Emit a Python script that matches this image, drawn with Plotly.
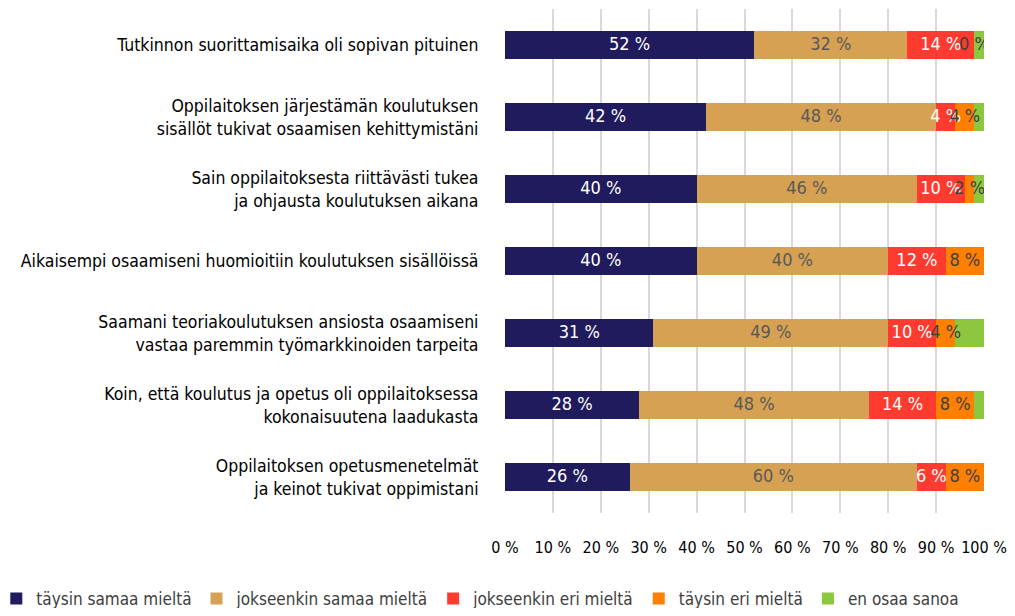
import plotly.graph_objects as go

# Kyselyn väittämät (ylhäältä alas)
statements = [
    "Tutkinnon suorittamisaika oli sopivan pituinen",
    "Oppilaitoksen järjestämän koulutuksen<br>sisällöt tukivat osaamisen kehittymistäni",
    "Sain oppilaitoksesta riittävästi tukea<br>ja ohjausta koulutuksen aikana",
    "Aikaisempi osaamiseni huomioitiin koulutuksen sisällöissä",
    "Saamani teoriakoulutuksen ansiosta osaamiseni<br>vastaa paremmin työmarkkinoiden tarpeita",
    "Koin, että koulutus ja opetus oli oppilaitoksessa<br>kokonaisuutena laadukasta",
    "Oppilaitoksen opetusmenetelmät<br>ja keinot tukivat oppimistani",
]

taysin_samaa = [52, 42, 40, 40, 31, 28, 26]
jokseenkin_samaa = [32, 48, 46, 40, 49, 48, 60]
jokseenkin_eri = [14, 4, 10, 12, 10, 14, 6]
taysin_eri = [0, 4, 2, 8, 4, 8, 8]
en_osaa = [2, 2, 2, 0, 6, 2, 0]

tick_vals = [0, 10, 20, 30, 40, 50, 60, 70, 80, 90, 100]
tick_text = [f"{v} %" for v in tick_vals]

series = [
    ("täysin samaa mieltä", taysin_samaa, "#1f1b5c", "white", True),
    ("jokseenkin samaa mieltä", jokseenkin_samaa, "#d6a152", "#595959", True),
    ("jokseenkin eri mieltä", jokseenkin_eri, "#ff3a2f", "white", True),
    ("täysin eri mieltä", taysin_eri, "#ff7f00", "#404040", True),
    ("en osaa sanoa", en_osaa, "#8dc63f", "#404040", False),
]

FONT = "DejaVu Sans Condensed, DejaVu Sans"
FS = 18

fig = go.Figure()

base = [0] * len(statements)
label_traces = []
for name, vals, color, txt_color, show_lbl in series:
    fig.add_trace(go.Bar(
        y=statements,
        x=vals,
        name=name,
        orientation="h",
        marker=dict(color=color, line=dict(width=0)),
        width=0.39,
        hoverinfo="x+name",
    ))
    if show_lbl:
        mids = [b + v / 2 for b, v in zip(base, vals)]
        label_traces.append(go.Scatter(
            x=mids,
            y=statements,
            mode="text",
            text=[f"{v} %" for v in vals],
            textposition="middle center",
            textfont=dict(family=FONT, size=FS, color=txt_color),
            showlegend=False,
            hoverinfo="skip",
        ))
    base = [b + v for b, v in zip(base, vals)]

for t in label_traces:
    fig.add_trace(t)

# the page body adds an 8px margin, so the figure is sized to fit inside it
fig.update_layout(
    barmode="stack",
    width=999,
    height=600,
    margin=dict(l=497, r=23, t=1, b=95, autoexpand=False),
    plot_bgcolor="white",
    paper_bgcolor="white",
    font=dict(family=FONT, size=FS, color="#000000"),
    legend=dict(
        orientation="h",
        traceorder="normal",
        x=-1.062, xanchor="left",
        y=-0.135, yanchor="top",
        font=dict(family=FONT, size=17, color="#404040"),
        itemwidth=30,
        tracegroupgap=0,
    ),
    xaxis=dict(
        range=[0, 100],
        tickvals=tick_vals,
        ticktext=tick_text,
        showgrid=True,
        gridcolor="#d9d9d9",
        gridwidth=2,
        zeroline=False,
        ticks="outside",
        ticklen=20,
        tickcolor="rgba(0,0,0,0)",
        tickfont=dict(family=FONT, size=16, color="#000000"),
        automargin=False,
        fixedrange=True,
    ),
    yaxis=dict(
        autorange="reversed",
        ticks="outside",
        ticklen=22,
        tickcolor="rgba(0,0,0,0)",
        tickfont=dict(family=FONT, size=17.5, color="#000000"),
        showgrid=False,
        automargin=False,
        fixedrange=True,
    ),
)

fig.write_html("out.html")
